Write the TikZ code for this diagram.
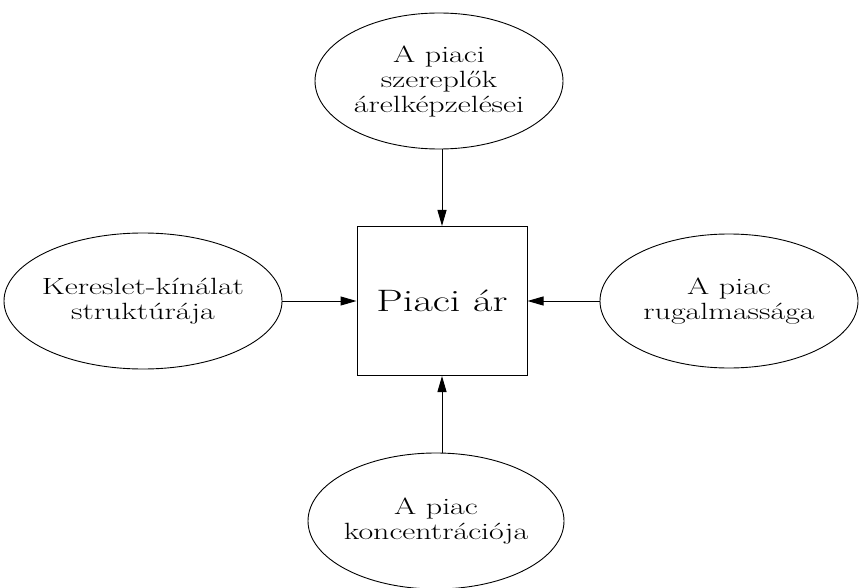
\documentclass[tikz,border=0pt]{standalone}
\usepackage{fontspec}
\setmainfont{Latin Modern Roman}[FakeStretch=1.36]
\usetikzlibrary{shapes.geometric,arrows.meta}
\begin{document}
\begin{tikzpicture}[x=1pt,y=-1pt,
  ell/.style={draw,ellipse,line width=0.9pt,inner sep=-40pt,align=center,font=\fontsize{23.5}{25}\selectfont},
  arr/.style={-{Triangle[length=16pt,width=9pt]},line width=1pt}]
\useasboundingbox (0,0) rectangle (859,588);
\node[draw,line width=1pt,minimum width=170pt,minimum height=149pt,inner sep=0pt,font=\fontsize{31}{36}\selectfont] (box) at (442,301) {Piaci ár};
\node[ell,minimum width=248pt,minimum height=136pt] (top) at (439,81) {A piaci\\szereplők\\árelképzelései};
\node[ell,minimum width=278pt,minimum height=136pt] (left) at (143,301) {Kereslet-kínálat\\struktúrája};
\node[ell,minimum width=258pt,minimum height=134pt] (right) at (729,301) {A piac\\rugalmassága};
\node[ell,minimum width=256pt,minimum height=136pt] (bot) at (436,521) {A piac\\koncentrációja};
\draw[arr] (top.south -| box.north) -- (box.north);
\draw[arr] (bot.north -| box.south) -- (box.south);
\draw[arr] (left.east) -- (box.west);
\draw[arr] (right.west) -- (box.east);
\end{tikzpicture}
\end{document}
